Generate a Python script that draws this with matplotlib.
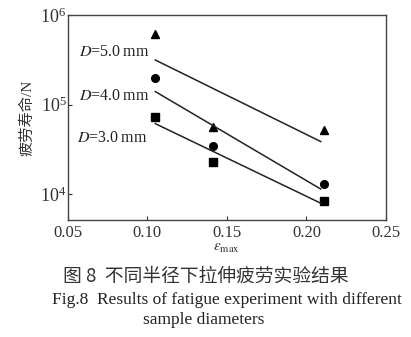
import matplotlib
matplotlib.use("Agg")
import matplotlib.pyplot as plt
import numpy as np
from matplotlib.ticker import LogLocator, NullLocator

plt.rcParams['font.family'] = ['Liberation Serif', 'Noto Sans CJK SC']
plt.rcParams['mathtext.fontset'] = 'stix'

# strain amplitude for each test group
strain = [0.105, 0.141, 0.211]

# fatigue life (cycles)
life_d5 = [6.1e5, 5.6e4, 5.2e4]
life_d4 = [2.0e5, 3.4e4, 1.3e4]
life_d3 = [7.3e4, 2.3e4, 8.3e3]

labels = ["D=5.0", "D=4.0", "D=3.0"]

fit_x = [0.105, 0.209]

fig = plt.figure(figsize=(4.11, 3.37), dpi=100)
ax = fig.add_axes([0.165, 0.347, 0.774, 0.608])

series = [(life_d5, '^', 6.0), (life_d4, 'o', 5.5), (life_d3, 's', 5.2)]
for life, mk, ms in series:
    ax.plot(strain, life, linestyle='none', marker=mk, color='black', markersize=ms)
    # least squares fit in log space
    k, b = np.polyfit(strain, np.log10(life), 1)
    xs = np.array(fit_x)
    ax.plot(xs, 10 ** (k * xs + b), color='#222222', linewidth=1.1)

ax.set_yscale('log')
ax.set_xlim(0.05, 0.25)
ax.set_ylim(5.1e3, 1e6)
ax.set_xticks([0.05, 0.10, 0.15, 0.20, 0.25])
ax.set_xticklabels(["0.05", "0.10", "0.15", "0.20", "0.25"])
ax.yaxis.set_major_locator(LogLocator(base=10, numticks=10))
ax.yaxis.set_minor_locator(NullLocator())
ax.tick_params(direction='in', length=3, width=0.8, labelsize=12, colors='#333333')
ax.tick_params(axis='y', pad=1, labelsize=13)
for sp in ax.spines.values():
    sp.set_linewidth(1.0)
    sp.set_color('#444444')

# group labels
label_pos = [(0.0569, 3.85e5), (0.0569, 1.24e5), (0.0557, 4.2e4)]
for lab, (x, y) in zip(labels, label_pos):
    ax.text(x, y, r"$D$=" + lab[2:] + "\u2009mm", fontsize=11.5, va='center', ha='left',
            color='#222222')

ax.set_xlabel(r"$\varepsilon_{\rm max}$", fontsize=11, labelpad=1, color='#333333')
ax.set_ylabel("疲劳寿命/N", fontsize=11, labelpad=4, color='#333333')

fig.text(0.5, 0.181, "图 8  不同半径下拉伸疲劳实验结果", ha='center', va='center',
         fontsize=13.5, color='#333333', family=['Noto Sans CJK SC', 'DejaVu Sans'])
fig.text(0.127, 0.11, "Fig.8  Results of fatigue experiment with different", ha='left',
         va='center', fontsize=12.5, color='#222222')
fig.text(0.495, 0.05, "sample diameters", ha='center', va='center', fontsize=12.5,
         color='#222222')

fig.savefig("out.png", dpi=100)
